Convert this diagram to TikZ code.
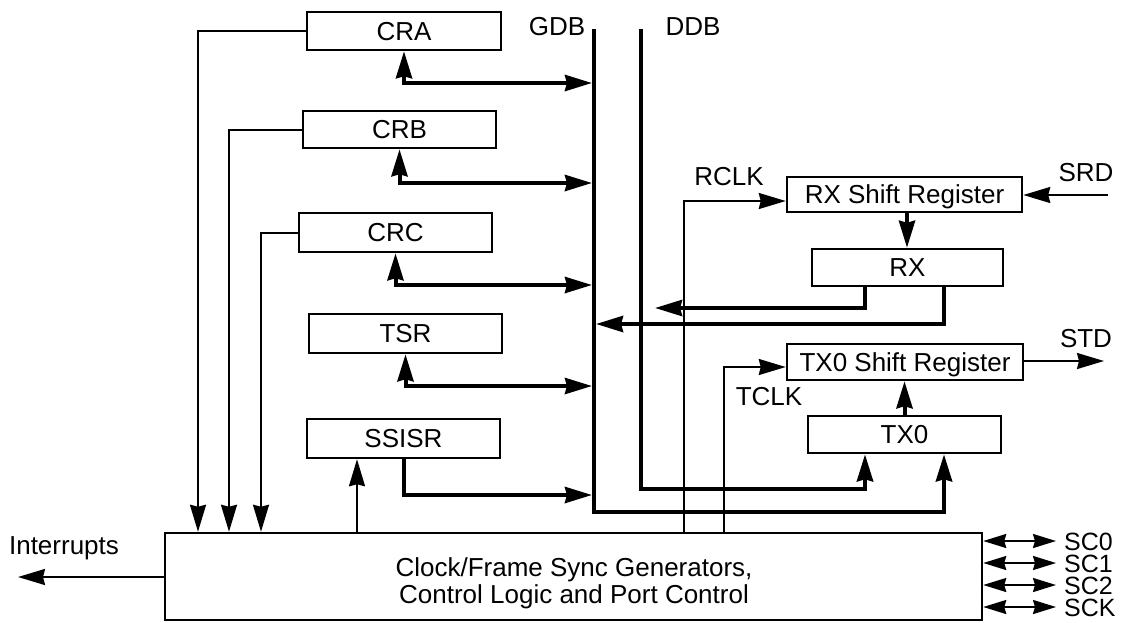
\documentclass[tikz,border=0pt]{standalone}
\usepackage{fontspec}
\setmainfont{Liberation Sans}
\usetikzlibrary{arrows.meta}
\begin{document}
\begin{tikzpicture}[x=1pt,y=-1pt,
  >={Stealth[length=27pt,width=16pt,inset=2pt]},
  txt/.style={font=\fontsize{26}{30}\selectfont, inner sep=0pt},
  reg/.style={draw, line width=2.5pt, inner sep=0pt, font=\fontsize{26}{30}\selectfont, text height=18.6pt, text depth=0pt},
  ctl/.style={line width=2pt, line join=miter},
  bus/.style={line width=4pt, line join=miter},
  busline/.style={line width=4.5pt, line join=miter}]
\useasboundingbox (0,0) rectangle (1124,622);

% registers
\node[reg, minimum width=194pt, minimum height=38pt] (CRA) at (404,31) {CRA};
\node[reg, minimum width=193pt, minimum height=37pt] (CRB) at (399.5,129.5) {CRB};
\node[reg, minimum width=193pt, minimum height=39pt] (CRC) at (395.5,232.5) {CRC};
\node[reg, minimum width=193pt, minimum height=39pt] (TSR) at (405.5,333.5) {TSR};
\node[reg, minimum width=193pt, minimum height=39pt] (SSISR) at (403.5,438.5) {SSISR};
\node[reg, minimum width=235pt, minimum height=35pt] (RXS) at (904.5,194.5) {RX Shift Register};
\node[reg, minimum width=191pt, minimum height=37pt] (RX) at (907.5,267.5) {RX};
\node[reg, minimum width=236pt, minimum height=36pt] (TXS) at (905,362) {TX0 Shift Register};
\node[reg, minimum width=193pt, minimum height=37pt] (TX0) at (904.5,434.5) {TX0};
\node[draw, line width=2.5pt, minimum width=817pt, minimum height=87pt] (CTL) at (573.5,576.5) {};
\node[txt, align=center, font=\fontsize{26}{27}\selectfont] (ctltext) at (574,583) {Clock/Frame Sync Generators,\\Control Logic and Port Control};

% labels
\node[txt] (lgdb) at (557,27) {GDB};
\node[txt] (lddb) at (693,27) {DDB};
\node[txt] (lrclk) at (729,177) {RCLK};
\node[txt] (ltclk) at (769,397) {TCLK};
\node[txt] (lsrd) at (1086,173) {SRD};
\node[txt] (lstd) at (1086,339) {STD};
\node[txt] (lint) at (64,548) {Interrupts};

% buses
\coordinate (gdbT) at (594,29);
\coordinate (gdbB) at (594,512);
\coordinate (ddbT) at (641,29);
\coordinate (ddbB) at (641,489);
\draw[busline,->] (gdbT) -- (gdbB) -| (TX0.south -| 944,0);
\draw[busline,->] (ddbT) -- (ddbB) -| (TX0.south -| 865,0);

% register <-> GDB
\draw[bus,<->,shorten >=2pt] (CRA.south) |- (gdbT |- 0,83);
\draw[bus,<->,shorten >=2pt] (CRB.south) |- (gdbT |- 0,183);
\draw[bus,<->,shorten >=2pt] (CRC.south) |- (gdbT |- 0,285);
\draw[bus,<->,shorten >=2pt] (TSR.south) |- (gdbT |- 0,386);
\draw[bus,->,shorten >=2pt] (SSISR.south) |- (gdbT |- 0,495);

% control lines to control logic
\draw[ctl,->] (CRA.west) -| (CTL.north -| 198,0);
\draw[ctl,->] (CRB.west) -| (CTL.north -| 229,0);
\draw[ctl,->] (CRC.west) -| (CTL.north -| 261,0);
\draw[ctl,->] (CTL.north -| 357,0) -- (SSISR.south -| 357,0);

% RX path
\draw[bus,->] (RXS.south -| 907,0) -- (RX.north -| 907,0);
\draw[bus,->,shorten >=14pt] (RX.south -| 865,0) |- (ddbT |- 0,308);
\draw[bus,->,shorten >=2pt] (RX.south -| 944,0) |- (gdbT |- 0,324);
\draw[ctl,->] (CTL.north -| 684,0) |- (RXS.west |- 0,201);
\coordinate (srdE) at (1108,195);
\draw[ctl,->] (srdE) -- (RXS.east |- srdE);

% TX path
\draw[bus,->] (TX0.north) -- (TX0.north |- TXS.south);
\draw[ctl,->] (CTL.north -| 724,0) |- (TXS.west |- 0,367);
\coordinate (stdE) at (1104,361);
\draw[ctl,->] (TXS.east |- stdE) -- (stdE);

% interrupts
\coordinate (intE) at (18,577);
\draw[ctl,->] (CTL.west |- intE) -- (intE);

% serial ports
\foreach \n/\yy in {SC0/541,SC1/563,SC2/585,SCK/607}{
  \coordinate (p\n) at (1056,\yy);
  \draw[ctl,{Stealth[length=23pt,width=14pt,inset=2pt]}-{Stealth[length=23pt,width=14pt,inset=2pt]}] (CTL.east |- p\n) -- (p\n);
  \node[txt,anchor=west,text height=18pt,text depth=0pt,font=\fontsize{25}{25}\selectfont] (l\n) at (1064,\yy) {\n};
}
\end{tikzpicture}
\end{document}
